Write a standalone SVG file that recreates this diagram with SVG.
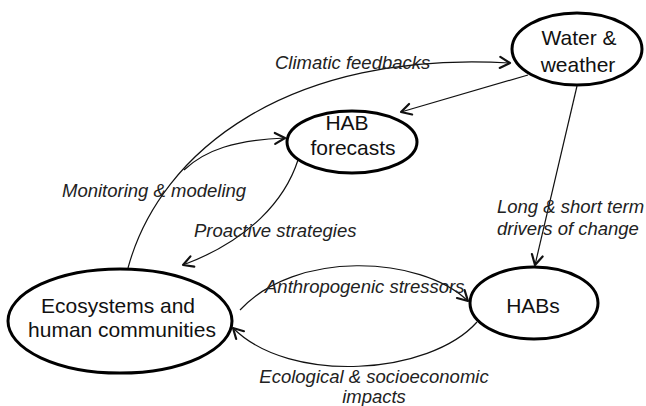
<svg xmlns="http://www.w3.org/2000/svg" width="646" height="406" viewBox="0 0 646 406">
  <defs>
    <style>
      .node { fill: #ffffff; stroke: #000000; stroke-width: 3; }
      .ntext { font-family: "Liberation Sans", Arial, sans-serif; font-size: 21px; fill: #111111; text-anchor: middle; }
      .edge { fill: none; stroke: #111111; stroke-width: 1.2; marker-end: url(#arrow); }
      .plain { fill: none; stroke: #111111; stroke-width: 1.2; }
      .label { font-family: "Liberation Sans", Arial, sans-serif; font-size: 18.5px; font-style: italic; fill: #222222; }
    </style>
    <marker id="arrow" markerUnits="userSpaceOnUse" markerWidth="16" markerHeight="16" viewBox="0 0 16 16" refX="13" refY="8" orient="auto">
      <path d="M3,2.5 L13,8 L3,13.5" fill="none" stroke="#111111" stroke-width="2.2" stroke-linecap="round" stroke-linejoin="round"/>
    </marker>
  </defs>
  <rect width="646" height="406" fill="#ffffff"/>

  <g id="connectors">
    <path id="e-climatic" class="edge" d="M128,268 C160,150 290,50 510,63"/>
    <path id="e-monitoring" class="edge" d="M184,170 C205,150 235,140 285,138"/>
    <path id="e-water-forecast" class="edge" d="M528,75 L401,112"/>
    <path id="e-water-habs" class="edge" d="M577,86 L535,265"/>
    <path id="e-proactive" class="edge" d="M298,160 C285,200 250,240 183,265"/>
    <path id="e-anthro" class="edge" d="M240,310 C295,250 420,255 468,301"/>
    <path id="e-impacts" class="edge" d="M477,322 C430,375 290,385 233,328"/>
  </g>

  <g id="labels">
    <text class="label" x="275" y="69">Climatic feedbacks</text>
    <text class="label" x="62" y="197">Monitoring &amp; modeling</text>
    <text class="label" x="194" y="237">Proactive strategies</text>
    <text class="label" x="497" y="213">Long &amp; short term</text>
    <text class="label" x="497" y="235">drivers of change</text>
    <text class="label" x="265" y="293">Anthropogenic stressors</text>
    <text class="label" x="374" y="383" text-anchor="middle">Ecological &amp; socioeconomic</text>
    <text class="label" x="374" y="403" text-anchor="middle">impacts</text>
  </g>

  <g id="water-weather">
    <ellipse class="node" cx="577" cy="49" rx="65" ry="36"/>
    <text class="ntext" x="579" y="45">Water &amp;</text>
    <text class="ntext" x="578" y="72">weather</text>
  </g>

  <g id="hab-forecasts">
    <ellipse class="node" cx="352" cy="142" rx="65" ry="31"/>
    <text class="ntext" x="347" y="130">HAB</text>
    <text class="ntext" x="353" y="155">forecasts</text>
  </g>

  <g id="ecosystems">
    <ellipse class="node" cx="120" cy="321" rx="112" ry="52"/>
    <text class="ntext" x="118" y="313">Ecosystems and</text>
    <text class="ntext" x="122" y="337">human communities</text>
  </g>

  <g id="habs">
    <ellipse class="node" cx="534" cy="303" rx="64" ry="36"/>
    <text class="ntext" x="533" y="313">HABs</text>
  </g>
</svg>
